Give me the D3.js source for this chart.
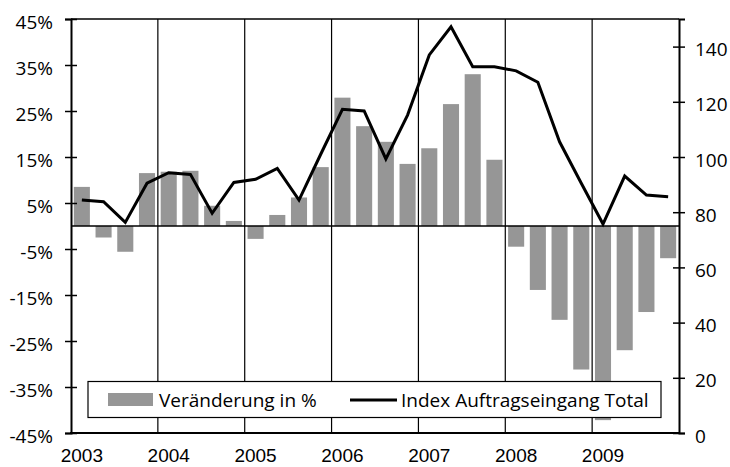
<!DOCTYPE html>
<html>
<head>
<meta charset="utf-8">
<script src="https://cdn.jsdelivr.net/npm/d3@7/dist/d3.min.js"></script>
<style>
  html, body { margin: 0; padding: 0; background: #fff; }
  svg { display: block; }
  text { font-family: "Open Sans", sans-serif; fill: #000; }
</style>
</head>
<body>
<svg id="chart" width="730" height="467"></svg>
<script>
// ---- data ----
const years = ["2003", "2004", "2005", "2006", "2007", "2008", "2009"];
const quarters = ["Q1", "Q2", "Q3", "Q4"];
// Veränderung in % (quarterly)
const change = [8.5, -2.5, -5.6, 11.5,
                11.8, 12.0, 4.4, 1.1,
                -2.8, 2.4, 6.2, 12.8,
                27.9, 21.7, 18.3, 13.5,
                16.9, 26.5, 33.0, 14.4,
                -4.5, -13.9, -20.4, -31.2,
                -42.2, -27.0, -18.7, -7.0];
// Index Auftragseingang Total
const indexTotal = [84.4, 83.8, 76.3, 90.5,
                    94.3, 93.7, 79.6, 90.8,
                    91.9, 95.9, 84.4, 101.0,
                    117.3, 116.7, 99.3, 115.2,
                    137.0, 147.2, 132.7, 132.7,
                    131.2, 127.1, 105.5, 90.5,
                    75.7, 93.1, 86.2, 85.6];
const leftTicks = [-45, -35, -25, -15, -5, 5, 15, 25, 35, 45];
const rightTicks = [0, 20, 40, 60, 80, 100, 120, 140];
const seriesNames = ["Veränderung in %", "Index Auftragseingang Total"];

// ---- layout ----
const L = 71, R = 679, T = 19, B = 433;
const svg = d3.select("#chart");

const keys = [];
years.forEach(y => quarters.forEach(q => keys.push(y + q)));

const x = d3.scaleBand().domain(keys).range([L, R]).paddingInner(0.26).paddingOuter(0.13);
const step = x.step();
const yL = d3.scaleLinear().domain([-45, 45]).range([B, T]);
const yR = d3.scaleLinear().domain([0, 150]).range([B, T]);

const boundary = k => x(k) - step * x.paddingInner() / 2;

// vertical year gridlines
svg.append("g").selectAll("line")
  .data(years.slice(1))
  .join("line")
  .attr("x1", d => boundary(d + "Q1")).attr("x2", d => boundary(d + "Q1"))
  .attr("y1", T).attr("y2", B)
  .attr("stroke", "#000").attr("stroke-width", 1.2);

// bars
svg.append("g").selectAll("rect")
  .data(change.map((v, i) => ({k: keys[i], v})))
  .join("rect")
  .attr("x", d => x(d.k))
  .attr("width", x.bandwidth())
  .attr("y", d => yL(Math.max(0, d.v)))
  .attr("height", d => Math.abs(yL(d.v) - yL(0)))
  .attr("fill", "#969696");

// zero line
svg.append("line")
  .attr("x1", L).attr("x2", R).attr("y1", yL(0)).attr("y2", yL(0))
  .attr("stroke", "#000").attr("stroke-width", 1.5);

// top border
svg.append("line")
  .attr("x1", L).attr("x2", R).attr("y1", T).attr("y2", T)
  .attr("stroke", "#000").attr("stroke-width", 1.5);

// left axis
const axL = svg.append("g").attr("transform", `translate(${L},0)`)
  .call(d3.axisLeft(yL).tickValues(leftTicks).tickFormat(d => d + "%").tickSize(6).tickPadding(12));
axL.select(".domain").attr("stroke-width", 2);
axL.selectAll(".tick line").attr("x1", 6).attr("x2", -6).attr("stroke-width", 1.5);
axL.selectAll(".tick text").attr("dy", "0.5em").style("font-size", "19px")
  .style("font-family", "'Open Sans', sans-serif").attr("x", -18);

// right axis
const axR = svg.append("g").attr("transform", `translate(${R},0)`)
  .call(d3.axisRight(yR).tickValues(rightTicks).tickSize(6).tickPadding(10));
axR.select(".domain").attr("stroke-width", 2);
axR.selectAll(".tick line").attr("x1", -6).attr("x2", 6).attr("stroke-width", 1.5);
axR.selectAll(".tick text").attr("dy", "0.48em").style("font-size", "19px")
  .style("font-family", "'Open Sans', sans-serif").attr("x", 16);

// bottom axis
svg.append("line")
  .attr("x1", L - 1).attr("x2", R + 1).attr("y1", B).attr("y2", B)
  .attr("stroke", "#000").attr("stroke-width", 2);
svg.append("g").selectAll("text")
  .data(years)
  .join("text")
  .attr("x", d => x(d + "Q1") + x.bandwidth() / 2)
  .attr("y", 462)
  .attr("text-anchor", "middle")
  .style("font-family", "'Liberation Sans', Arial, sans-serif")
  .style("font-size", "19px")
  .text(d => d);

// line
const line = d3.line()
  .x((d, i) => x(keys[i]) + x.bandwidth() / 2)
  .y(d => yR(d));
svg.append("path")
  .datum(indexTotal)
  .attr("d", line)
  .attr("fill", "none")
  .attr("stroke", "#000")
  .attr("stroke-width", 3)
  .attr("stroke-linejoin", "miter");

// legend
const lg = svg.append("g");
lg.append("rect").attr("x", 88).attr("y", 381.5).attr("width", 573).attr("height", 36)
  .attr("fill", "#fff").attr("stroke", "#000").attr("stroke-width", 1.2);
lg.append("rect").attr("x", 108).attr("y", 393).attr("width", 45).attr("height", 13)
  .attr("fill", "#969696");
lg.append("text").attr("x", 159).attr("y", 407).style("font-size", "19px").text(seriesNames[0]);
lg.append("line").attr("x1", 350).attr("x2", 397).attr("y1", 400).attr("y2", 400)
  .attr("stroke", "#000").attr("stroke-width", 3);
lg.append("text").attr("x", 401).attr("y", 407).style("font-size", "19px").text(seriesNames[1]);
</script>
</body>
</html>
